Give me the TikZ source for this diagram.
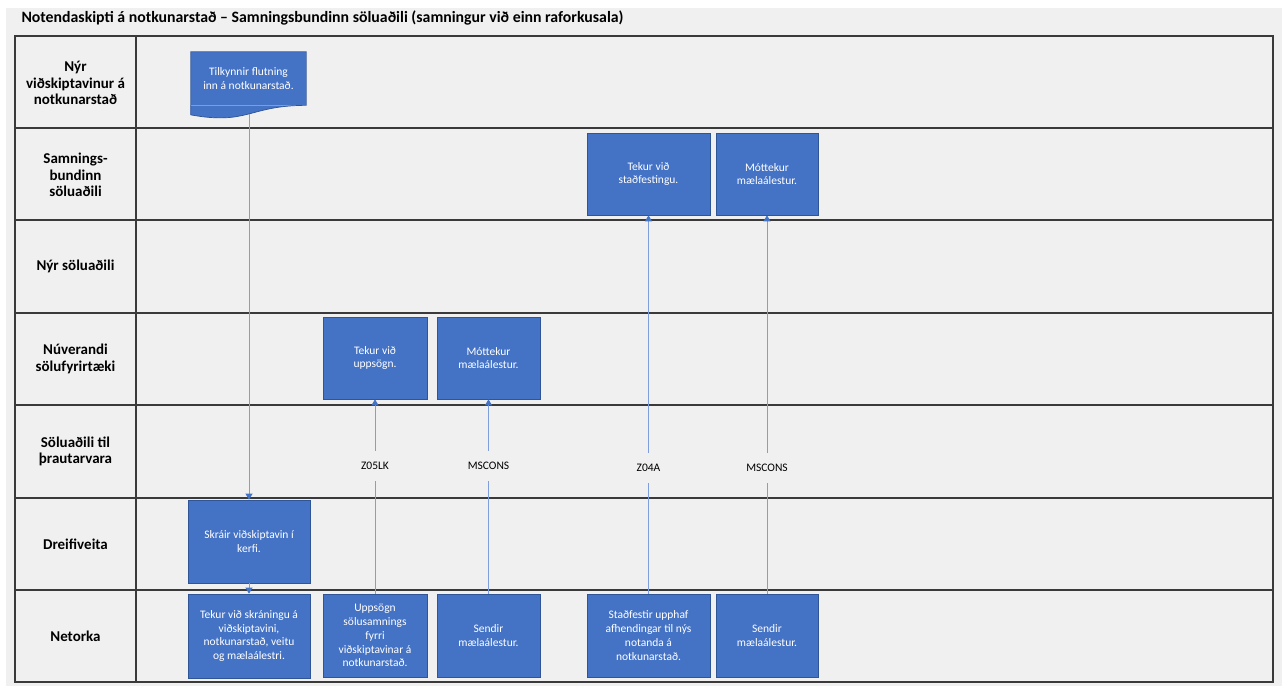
\documentclass[tikz,border=0pt]{standalone}
\usepackage{fontspec}
\setmainfont{Carlito}
\usetikzlibrary{arrows.meta,calc}
\definecolor{paper}{HTML}{F0F0F0}
\definecolor{gridline}{HTML}{3A3A3A}
\definecolor{boxblue}{HTML}{4472C4}
\definecolor{boxline}{HTML}{2F5597}
\definecolor{flowline}{HTML}{7F9FDB}
\definecolor{tipblue}{HTML}{4472C4}
\tikzset{
	lane/.style={align=center, font=\fontsize{15}{16.5}\selectfont\bfseries},
	task/.style={fill=boxblue, draw=boxline, line width=0.7pt, text=white, align=center, inner sep=0pt, font=\fontsize{11.5}{13.8}\selectfont},
	msg/.style={fill=paper, inner xsep=2pt, inner ysep=11.5pt, font=\fontsize{11.5}{13}\selectfont},
	link/.style={draw=flowline, line width=0.8pt},
	flow/.style={link, -{Triangle[width=7pt,length=6pt,color=tipblue]}}
}

\begin{document}
\begin{tikzpicture}[x=1pt, y=-1pt]
		%%%%% START %%%%%
		\useasboundingbox (0, 0) rectangle (1282, 686);
		\fill[white] (0, 0) rectangle (1282, 686);
		\fill[paper] (6, 8) rectangle (1282, 686);
		
		\node[anchor=base west, font=\fontsize{15.8}{18}\selectfont\bfseries] (title) at (18, 22) {Notendaskipti á notkunarstað – Samningsbundinn söluaðili (samningur við einn raforkusala)};
		
		% table
		\draw[line width=1.6pt, color=gridline] (15, 36) rectangle (1273, 682);
		\draw[line width=1.6pt, color=gridline] (136, 36) -- (136, 682);
		\foreach \y in {128, 220, 313, 405, 498, 590}
			\draw[line width=1.6pt, color=gridline] (15, \y) -- (1273, \y);
		
		% lanes
		\node[lane] (nyrvid) at (75.5, 83) {Nýr\\viðskiptavinur á\\notkunarstað};
		\node[lane] (samn) at (75.5, 175) {Samnings-\\bundinn\\söluaðili};
		\node[lane] (nyrsol) at (75.5, 266.5) {Nýr söluaðili};
		\node[lane] (nuver) at (75.5, 359) {Núverandi\\sölufyrirtæki};
		\node[lane] (thraut) at (75.5, 451.5) {Söluaðili til\\þrautarvara};
		\node[lane] (dreif) at (75.5, 544) {Dreifiveita};
		\node[lane] (netorka) at (75.5, 636.5) {Netorka};
		
		% document shape
		\node[task, draw=none, minimum width=115pt, minimum height=53pt] (tilk) at (248.5, 78.5) {Tilkynnir flutning\\inn á notkunarstað.};
		\fill[boxblue] (tilk.south east) .. controls +(-57.5, 0) and +(57.5, 10.5) .. ($(tilk.south west)+(0, 9.5)$) -- (tilk.south west) -- cycle;
		\draw[line width=0.7pt, color=boxline] (tilk.south east) .. controls +(-57.5, 0) and +(57.5, 10.5) .. ($(tilk.south west)+(0, 9.5)$) -- (tilk.north west) -- (tilk.north east) -- cycle;
		\coordinate (tilkbot) at ($(tilk.south)+(0.5, 8.7)$);
		
		\node[task, minimum width=123pt, minimum height=82pt] (stadfest) at (648.5, 174) {Tekur við\\staðfestingu.};
		\node[task, minimum width=102pt, minimum height=82pt] (mottekA) at (767, 174) {Móttekur\\mælaálestur.};
		
		\node[task, minimum width=104pt, minimum height=82pt] (uppsagnA) at (375, 358) {Tekur við\\uppsögn.};
		\node[task, minimum width=103pt, minimum height=82pt] (mottekB) at (488.5, 358) {Móttekur\\mælaálestur.};
		
		\node[task, minimum width=122pt, minimum height=83pt] (skrair) at (249, 541.5) {Skráir viðskiptavin í\\kerfi.};
		
		\node[task, minimum width=122pt, minimum height=84pt] (skraning) at (249, 636) {Tekur við skráningu á\\viðskiptavini,\\notkunarstað, veitu\\og mælaálestri.};
		\node[task, minimum width=104pt, minimum height=83pt] (uppsogn) at (375, 635.5) {Uppsögn\\sölusamnings\\fyrri\\viðskiptavinar á\\notkunarstað.};
		\node[task, minimum width=103pt, minimum height=83pt] (sendirA) at (488.5, 635.5) {Sendir\\mælaálestur.};
		\node[task, minimum width=123pt, minimum height=83pt] (stadfestir) at (648.5, 635.5) {Staðfestir upphaf\\afhendingar til nýs\\notanda á\\notkunarstað.};
		\node[task, minimum width=102pt, minimum height=83pt] (sendirB) at (767, 635.5) {Sendir\\mælaálestur.};
		
		% messages
		\node[msg] (z05lk) at (375, 466) {Z05LK};
		\node[msg] (msconsA) at (488.5, 466) {MSCONS};
		\node[msg] (z04a) at (648.5, 468) {Z04A};
		\node[msg] (msconsB) at (767, 468) {MSCONS};
		
		\draw[flow] (tilkbot) -- (skrair);
		\draw[flow] (skrair) -- (skraning);
		\draw[link] (uppsogn) -- (z05lk);
		\draw[flow] (z05lk) -- (uppsagnA);
		\draw[link] (sendirA) -- (msconsA);
		\draw[flow] (msconsA) -- (mottekB);
		\draw[link] (stadfestir) -- (z04a);
		\draw[flow] (z04a) -- (stadfest);
		\draw[link] (sendirB) -- (msconsB);
		\draw[flow] (msconsB) -- (mottekA);
		
		%%%%% END %%%%%
\end{tikzpicture}
\end{document}
